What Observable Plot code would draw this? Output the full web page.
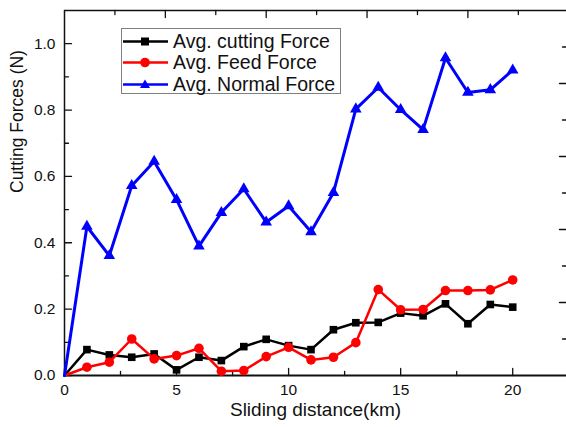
<!DOCTYPE html>
<html>
<head>
<meta charset="utf-8">
<script src="https://cdn.jsdelivr.net/npm/d3@7"></script>
<script src="https://cdn.jsdelivr.net/npm/@observablehq/plot@0.6"></script>
<style>
  html, body { margin: 0; padding: 0; background: #fff; }
  #wrap { position: relative; width: 566px; height: 427px; font-family: "Liberation Sans", Arial, sans-serif; }
  #legend { position: absolute; left: 121px; top: 28px; width: 218px; height: 64px; border: 1px solid #808080; background: #fff; }
  .row { position: absolute; left: 0; height: 22px; display: flex; align-items: center; }
  .row svg { display: block; }
  .row span { font-size: 19.5px; color: #111; margin-left: 5px; white-space: nowrap; }
</style>
</head>
<body>
<div id="wrap"></div>
<script>
// ---- data ----
const distance = [0,1,2,3,4,5,6,7,8,9,10,11,12,13,14,15,16,17,18,19,20];
const cutting = [0,0.078,0.062,0.055,0.065,0.017,0.055,0.045,0.087,0.109,0.090,0.078,0.138,0.159,0.160,0.188,0.180,0.216,0.156,0.214,0.206];
const feed    = [0,0.025,0.040,0.110,0.050,0.060,0.082,0.013,0.015,0.057,0.085,0.047,0.055,0.099,0.259,0.198,0.199,0.256,0.256,0.258,0.288];
const normal  = [0,0.449,0.361,0.572,0.645,0.530,0.390,0.491,0.562,0.462,0.511,0.433,0.551,0.803,0.868,0.801,0.741,0.957,0.853,0.861,0.920];

const seriesNames = ["Avg. cutting Force", "Avg. Feed Force", "Avg. Normal Force"];
const seriesColors = ["#000000", "#ff0000", "#0000ff"];
const seriesSymbols = ["square", "circle", "triangle"];

const xMajorTicks = [0,5,10,15,20];
const xMinorTicks = [2.5,7.5,12.5,17.5];
const yMajorTicks = [0,0.2,0.4,0.6,0.8,1.0];
const yMinorTicks = [0.1,0.3,0.5,0.7,0.9];
const topMajorTicks = [4.5,9,13.5,18];
const topMinorTicks = [2.25,6.75,11.25,15.75,20.25];
const rightMajorTicks = [0.22,0.44,0.66,0.88];
const rightMinorTicks = [0.11,0.33,0.55,0.77,0.99];

const xTitle = "Sliding distance(km)";
const yTitle = "Cutting Forces (N)";

const table = [cutting, feed, normal].flatMap((vals, s) =>
  distance.map((x, i) => ({x, y: vals[i], series: seriesNames[s]})));

const lineMarks = seriesNames.map((name, s) => [
  Plot.line(table.filter(d => d.series === name), {x: "x", y: "y", stroke: seriesColors[s], strokeWidth: s === 2 ? 3 : 2.5}),
  Plot.dot(table.filter(d => d.series === name && d.x > 0), {x: "x", y: "y", symbol: seriesSymbols[s], fill: seriesColors[s], stroke: "none", r: s === 0 ? 4.3 : s === 1 ? 4.8 : 4.3})
]).flat();

// inward tick shape: a straight line of length l from the anchor
const tickShape = {draw(context, l) { context.moveTo(0, 0); context.lineTo(0, -l); }};
const tickOpts = {anchor: "start", shape: tickShape, stroke: "#111", strokeWidth: 1.3};
const ticksX = (vals, len, frameAnchor, rotate) => Plot.vector(vals, {x: d => d, frameAnchor, length: len, rotate, ...tickOpts});
const ticksY = (vals, len, frameAnchor, rotate) => Plot.vector(vals, {y: d => d, frameAnchor, length: len, rotate, ...tickOpts});

const chart = Plot.plot({
  width: 566,
  height: 427,
  marginLeft: 64,
  marginRight: 0,
  marginTop: 10,
  marginBottom: 52,
  style: {fontFamily: "Liberation Sans, Arial, sans-serif", background: "#fff", color: "#111"},
  x: {domain: [0, 22.4]},
  y: {domain: [0, 1.1]},
  marks: [
    // inward tick marks
    ticksX(xMajorTicks, 7, "bottom", 0),
    ticksX(xMinorTicks, 4, "bottom", 0),
    ticksX(topMajorTicks, 7, "top", 180),
    ticksX(topMinorTicks, 4, "top", 180),
    ticksY(yMajorTicks, 7, "left", 90),
    ticksY(yMinorTicks, 4, "left", 90),
    ticksY(rightMajorTicks, 7, "right", -90),
    ticksY(rightMinorTicks, 4, "right", -90),
    // tick labels
    Plot.axisX({ticks: xMajorTicks, tickSize: 0, tickPadding: 8, fontSize: 15.5, tickFormat: d => String(d), fill: "#111", label: null}),
    Plot.axisY({ticks: yMajorTicks, tickSize: 0, tickPadding: 9, fontSize: 15.5, tickFormat: d3.format(".1f"), fill: "#111", label: null}),
    // axis lines
    Plot.ruleX([0], {stroke: "#111", strokeWidth: 1.5}),
    Plot.ruleY([0], {stroke: "#111", strokeWidth: 1.8}),
    Plot.ruleY([1.1], {stroke: "#111", strokeWidth: 1.5}),
    // titles
    Plot.text([xTitle], {frameAnchor: "bottom", dy: 40, fontSize: 19, fill: "#111"}),
    Plot.text([yTitle], {frameAnchor: "left", dx: -47, rotate: -90, fontSize: 17.5, fill: "#111"}),
    ...lineMarks
  ]
});

const wrap = document.getElementById("wrap");
wrap.appendChild(chart);

// legend (HTML overlay)
const legend = document.createElement("div");
legend.id = "legend";
seriesNames.forEach((name, s) => {
  const row = document.createElement("div");
  row.className = "row";
  row.style.top = (1 + s * 21.5) + "px";
  const sym = seriesSymbols[s];
  let marker;
  if (sym === "square") marker = `<rect x="19" y="6.5" width="8" height="8" fill="${seriesColors[s]}"/>`;
  else if (sym === "circle") marker = `<circle cx="23" cy="10.5" r="4.8" fill="${seriesColors[s]}"/>`;
  else marker = `<path d="M23,5.5 L28,14 L18,14 Z" fill="${seriesColors[s]}"/>`;
  row.innerHTML = `<svg width="46" height="21" viewBox="0 0 46 21"><line x1="1" y1="10.5" x2="46" y2="10.5" stroke="${seriesColors[s]}" stroke-width="2.5"/>${marker}</svg><span>${name}</span>`;
  legend.appendChild(row);
});
wrap.appendChild(legend);
</script>
</body>
</html>
